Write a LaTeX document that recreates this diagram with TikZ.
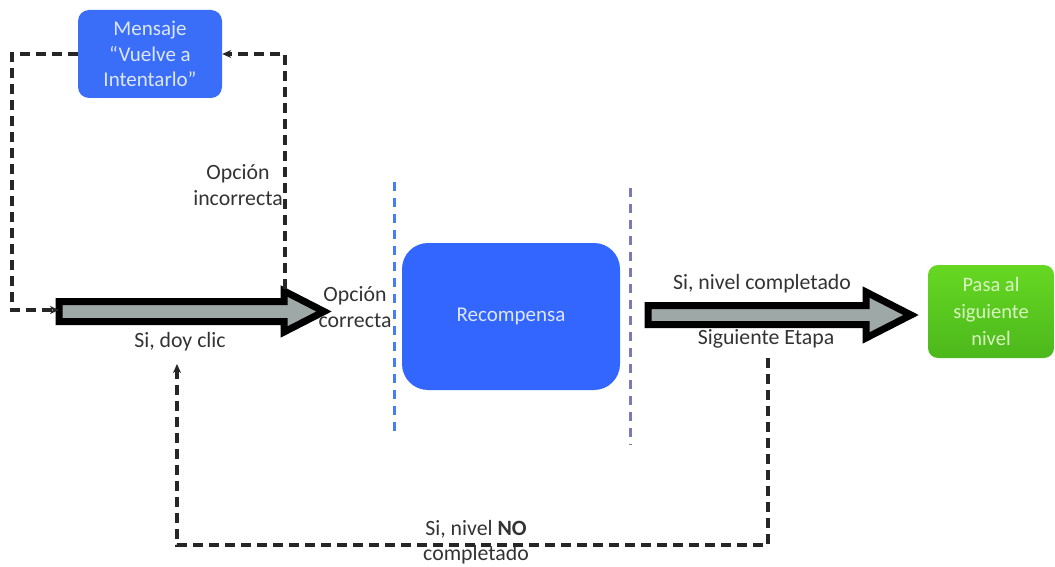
\documentclass[tikz,border=0pt]{standalone}
\usepackage{fontspec}
\setmainfont{Carlito}
\usetikzlibrary{arrows.meta}
\definecolor{boxblue}{HTML}{3366FF}
\definecolor{msgblue}{HTML}{3A6EF8}
\definecolor{boxtext}{HTML}{DCE6FF}
\definecolor{lbl}{HTML}{333333}
\definecolor{loopc}{HTML}{262626}
\definecolor{shaft}{HTML}{9EA8A6}
\definecolor{sepblue}{HTML}{4A7BFF}
\definecolor{seppurple}{HTML}{7A7AB8}
\definecolor{greentop}{HTML}{66D822}
\definecolor{greenbot}{HTML}{4CB81C}
\definecolor{greentext}{HTML}{D8F5C0}
\begin{document}
\begin{tikzpicture}[x=1pt,y=-1pt,
  lab/.style={text=lbl, font=\fontsize{21.8}{25.6}\selectfont, align=center, inner sep=0pt},
  bluebox/.style={fill=boxblue, draw=none, text=boxtext, font=\fontsize{21}{25.6}\selectfont, align=center, inner sep=0pt},
  loopline/.style={draw=loopc, line width=3.2pt, dash pattern=on 10pt off 6pt, -{Stealth[length=9pt,width=8pt]}},
  bigarrow/.style={draw=black, line width=7pt, fill=shaft, line join=miter},
  sepline/.style={line width=3pt, dash pattern=on 9pt off 7pt}
]
\useasboundingbox (0,0) rectangle (1055,567);

% boxes
\node[bluebox, fill=msgblue, minimum width=144pt, minimum height=88pt, rounded corners=11pt] (msg) at (150,54) {Mensaje\\“Vuelve a\\Intentarlo”};
\node[bluebox, minimum width=218pt, minimum height=147pt, rounded corners=26pt] (rec) at (511,316.5) {Recompensa};
\node[draw=none, top color=greentop, bottom color=greenbot, rounded corners=10pt, minimum width=126pt, minimum height=93pt, text=greentext, font=\fontsize{20.5}{27}\selectfont, align=center, inner sep=0pt] (green) at (991,311.5) {Pasa al\\siguiente\\nivel};

% big arrows
\coordinate (a1tail) at (59,311.5);
\coordinate (a1tip) at (324,311.5);
\draw[bigarrow] (59,301.5) -- (284,301.5) -- (284,291) -- (a1tip) -- (284,332) -- (284,321.5) -- (59,321.5) -- cycle;
\coordinate (a2tail) at (648,315);
\coordinate (a2tip) at (911,315);
\draw[bigarrow] (648,305.5) -- (866,305.5) -- (866,292) -- (a2tip) -- (866,338) -- (866,324.5) -- (648,324.5) -- cycle;

% labels
\node[lab] (incorr) at (238,185) {Opción\\incorrecta};
\node[lab] (corr) at (355,307) {Opción\\correcta};
\node[lab] (doyclic) at (180,342) {Si, doy clic};
\node[lab] (compl) at (762,284) {Si, nivel completado};
\node[lab] (etapa) at (766,339) {Siguiente Etapa};
\node[lab] (nocompl) at (476,542) {Si, nivel \textbf{NO}\\completado};

% separators
\coordinate (s1a) at (394,182); \coordinate (s1b) at (394,438);
\coordinate (s2a) at (630,188); \coordinate (s2b) at (630,445);
\draw[sepline, draw=sepblue] (s1a) -- (s1b);
\draw[sepline, draw=seppurple] (s2a) -- (s2b);

% loops
\coordinate (tstart) at (285,289);
\draw[loopline] (tstart) |- (msg.east);
\coordinate (lcorner) at (12,310);
\coordinate (lend) at (a1tail |- lcorner);
\draw[loopline] (msg.west) -| (lcorner) -- (lend);
\coordinate (bstart) at (768,358);
\coordinate (bcorner) at (177,545);
\coordinate (bend) at (177,364);
\draw[loopline] (bstart) |- (bcorner) -- (bend);
\end{tikzpicture}
\end{document}
